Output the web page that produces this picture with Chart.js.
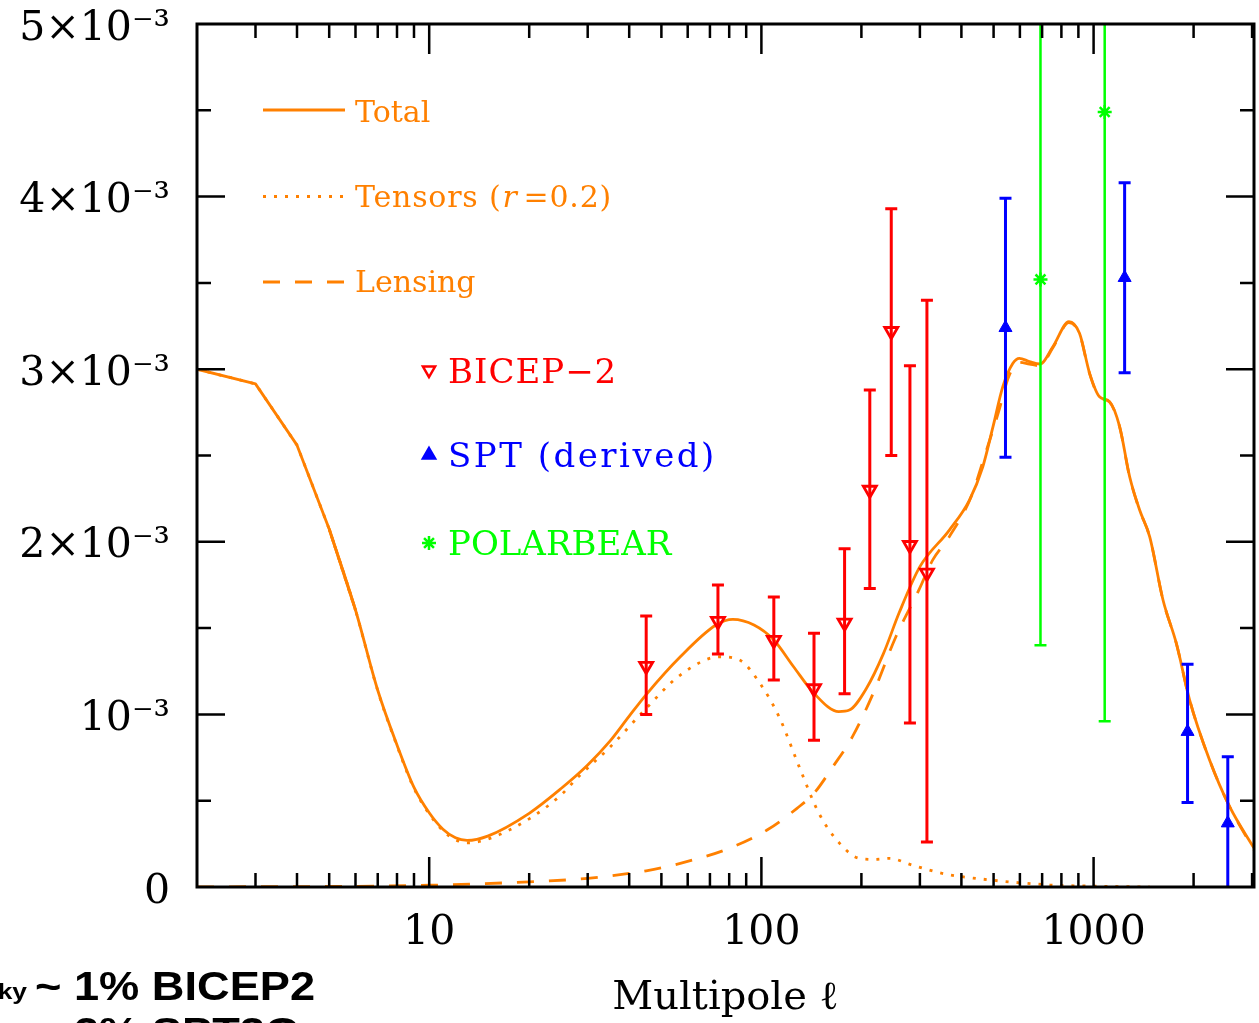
<!DOCTYPE html>
<html>
<head>
<meta charset="utf-8">
<script src="https://cdn.jsdelivr.net/npm/chart.js@4.4.1/dist/chart.umd.min.js"></script>
<style>
html, body { margin: 0; padding: 0; background: #fff; overflow: hidden; }
#plot { display: block; }
</style>
</head>
<body>
<canvas id="plot" width="1259" height="1023"></canvas>
<script>
// B-mode power spectrum, values in units of 1e-3 (muK^2)
// low multipoles are joined by straight segments, the rest is smooth
const lowEll = [2, 3, 4, 5, 6];
const lowCl = [3.00, 2.915, 2.56, 2.074, 1.605];
const totalEll = [5, 6, 7, 8, 9, 10, 11, 12, 13, 15, 20, 25, 30, 35, 40, 45, 57, 73, 82, 95, 109, 125, 144, 171, 184, 207, 233, 260, 300, 368, 423, 464, 498, 533, 571, 598, 641, 690, 754, 843, 907, 973, 1042, 1117, 1198, 1284, 1376, 1475, 1618, 1775, 1946, 2234, 2568, 3040];
const totalCl = [2.074, 1.605, 1.14, 0.823, 0.577, 0.43, 0.335, 0.285, 0.27, 0.295, 0.427, 0.572, 0.707, 0.845, 0.99, 1.115, 1.334, 1.518, 1.551, 1.518, 1.431, 1.276, 1.122, 1.016, 1.025, 1.150, 1.352, 1.590, 1.856, 2.068, 2.242, 2.435, 2.667, 2.899, 3.033, 3.063, 3.044, 3.03, 3.13, 3.275, 3.208, 2.976, 2.84, 2.812, 2.667, 2.377, 2.184, 2.03, 1.663, 1.411, 1.083, 0.736, 0.465, 0.225];

const tensLowEll = [2, 3, 4, 5, 6];
const tensLowCl = [3.00, 2.915, 2.56, 2.074, 1.603];
const tensEll = [5, 6, 7, 8, 9, 10, 11, 12, 13, 15, 20, 25, 28, 35, 45, 57, 75, 86, 99, 113, 130, 149, 172, 197, 220, 243, 284, 358, 442, 737, 1000, 1474];
const tensCl = [2.074, 1.603, 1.137, 0.818, 0.571, 0.423, 0.326, 0.274, 0.256, 0.277, 0.395, 0.535, 0.635, 0.81, 1.035, 1.228, 1.334, 1.315, 1.18, 0.987, 0.696, 0.427, 0.253, 0.166, 0.16, 0.166, 0.127, 0.075, 0.05, 0.012, 0.005, 0.0];

const lensEll = [2, 10, 20, 30, 40, 45, 57, 80, 104, 128, 144, 164, 188, 217, 254, 298, 328, 368, 428, 469, 517, 556, 598, 641, 690, 754, 843, 907, 973, 1042, 1117, 1198, 1284, 1376, 1475, 1618, 1775, 1946, 2234, 2568, 3040];
const lensCl = [0.0, 0.01, 0.03, 0.05, 0.079, 0.094, 0.137, 0.224, 0.33, 0.456, 0.543, 0.696, 0.871, 1.122, 1.45, 1.721, 1.895, 2.03, 2.261, 2.493, 2.75, 2.96, 3.04, 3.03, 3.02, 3.125, 3.27, 3.205, 2.973, 2.838, 2.81, 2.665, 2.375, 2.182, 2.03, 1.662, 1.41, 1.083, 0.736, 0.465, 0.215];

// data points with error bars
const bicepEll = [45, 74, 109, 144, 178, 212, 246, 280, 315];
const bicepCl = [1.28, 1.54, 1.43, 1.15, 1.53, 2.30, 3.22, 1.98, 1.82];
const bicepLo = [1.00, 1.35, 1.20, 0.85, 1.12, 1.73, 2.50, 0.95, 0.26];
const bicepHi = [1.57, 1.75, 1.68, 1.47, 1.96, 2.88, 3.93, 3.02, 3.40];

const sptEll = [543, 1240, 1918, 2535];
const sptCl = [3.24, 3.53, 0.90, 0.37];
const sptLo = [2.49, 2.98, 0.49, -0.1];
const sptHi = [3.99, 4.08, 1.29, 0.755];

const pbEll = [692, 1080];
const pbCl = [3.52, 4.49];
const pbLo = [1.40, 0.96];
const pbHi = [5.64, 8.02];

const yTickText = {0: '0', 1: '10⁻³', 2: '2×10⁻³', 3: '3×10⁻³', 4: '4×10⁻³', 5: '5×10⁻³'};
const xTickText = {10: '10', 100: '100', 1000: '1000'};

const ORANGE = '#ff8000';
const SERIF = '"DejaVu Serif", serif';

function pts(xs, ys) { return xs.map((v, i) => ({x: v, y: ys[i]})); }

// error bars, drawn with the chart scales
const errorBars = {
  id: 'errorBars',
  afterDatasetsDraw(chart) {
    const {ctx, chartArea: a, scales: {x, y}} = chart;
    ctx.save();
    ctx.beginPath();
    ctx.rect(a.left, a.top, a.right - a.left, a.bottom - a.top);
    ctx.clip();
    chart.data.datasets.forEach(ds => {
      if (!ds.errLo) return;
      ctx.strokeStyle = ds.borderColor;
      ctx.lineWidth = ds.errWidth;
      ds.data.forEach((p, i) => {
        const px = x.getPixelForValue(p.x);
        const lo = y.getPixelForValue(ds.errLo[i]);
        const hi = y.getPixelForValue(ds.errHi[i]);
        ctx.beginPath();
        ctx.moveTo(px, lo); ctx.lineTo(px, hi);
        ctx.moveTo(px - 6, lo); ctx.lineTo(px + 6, lo);
        ctx.moveTo(px - 6, hi); ctx.lineTo(px + 6, hi);
        ctx.stroke();
      });
    });
    ctx.restore();
  }
};

// box with inward ticks on all four sides
const frame = {
  id: 'frame',
  afterDatasetsDraw(chart) {
    const {ctx, chartArea: a, scales: {x, y}} = chart;
    ctx.save();
    ctx.strokeStyle = '#000';
    ctx.lineWidth = 2.5;
    ctx.beginPath();
    x.ticks.forEach(t => {
      const dec = Math.pow(10, Math.floor(Math.log10(t.value) + 1e-9));
      const m = t.value / dec;
      if (Math.abs(m - Math.round(m)) > 1e-6) return;
      const px = x.getPixelForValue(t.value);
      if (px <= a.left + 1 || px >= a.right - 1) return;
      const len = Math.round(m) === 1 ? 30 : 14;
      ctx.moveTo(px, a.bottom); ctx.lineTo(px, a.bottom - len);
      ctx.moveTo(px, a.top); ctx.lineTo(px, a.top + len);
    });
    y.ticks.forEach(t => {
      const py = y.getPixelForValue(t.value);
      if (py <= a.top + 1 || py >= a.bottom - 1) return;
      const len = Number.isInteger(t.value) ? 28 : 14;
      ctx.moveTo(a.left, py); ctx.lineTo(a.left + len, py);
      ctx.moveTo(a.right, py); ctx.lineTo(a.right - len, py);
    });
    ctx.stroke();
    ctx.lineWidth = 3;
    ctx.strokeRect(a.left, a.top, a.right - a.left, a.bottom - a.top);
    ctx.restore();
  }
};

// hand-placed legend, like the original figure
const legendBox = {
  id: 'legendBox',
  afterDraw(chart) {
    const ctx = chart.ctx;
    ctx.save();
    ctx.strokeStyle = ORANGE;
    ctx.lineWidth = 2.8;
    [[110, []], [196.5, [3, 8]], [282, [17, 15]]].forEach(([yy, dash]) => {
      ctx.setLineDash(dash);
      ctx.beginPath(); ctx.moveTo(263, yy); ctx.lineTo(345, yy); ctx.stroke();
    });
    ctx.setLineDash([]);
    ctx.fillStyle = ORANGE;
    ctx.textBaseline = 'alphabetic';
    ctx.font = '30px ' + SERIF;
    ctx.fillText('Total', 355, 121.5);
    ctx.letterSpacing = '0.8px';
    let xx = 355;
    ctx.fillText('Tensors (', xx, 207);
    xx += ctx.measureText('Tensors (').width + 1;
    ctx.font = 'italic 30px ' + SERIF;
    ctx.fillText('r', xx, 207);
    xx += ctx.measureText('r').width + 6;
    ctx.font = '30px ' + SERIF;
    ctx.fillText('=0.2)', xx, 207);
    ctx.letterSpacing = '0px';
    ctx.fillText('Lensing', 355, 292);

    const marks = [
      {y: 370, color: '#ff0000', style: 'triangle', rot: 180, fill: false, text: 'BICEP−2', base: 383, sp: '1px'},
      {y: 455, color: '#0000ff', style: 'triangle', rot: 0, fill: true, text: 'SPT (derived)', base: 467, sp: '2.5px'},
      {y: 543, color: '#00ff00', style: 'star', rot: 0, fill: false, text: 'POLARBEAR', base: 555, sp: '0px'}
    ];
    marks.forEach(m => {
      ctx.strokeStyle = m.color;
      ctx.fillStyle = m.fill ? m.color : 'rgba(0,0,0,0)';
      ctx.lineWidth = 2.5;
      Chart.helpers.drawPoint(ctx, {pointStyle: m.style, radius: 7, rotation: m.rot, borderWidth: 2.5}, 429, m.y);
      ctx.fillStyle = m.color;
      ctx.font = '34px ' + SERIF;
      ctx.letterSpacing = m.sp;
      ctx.fillText(m.text, 448, m.base);
      ctx.letterSpacing = '0px';
    });

    // caption fragment cut off at the lower left of the slide
    ctx.fillStyle = '#000';
    ctx.font = 'bold 22px "Liberation Sans", Arial, sans-serif';
    ctx.save();
    ctx.translate(27, 999);
    ctx.scale(1.2, 1);
    ctx.textAlign = 'right';
    ctx.fillText('f', -28, 0);
    ctx.fillText('sky', 0, 0);
    ctx.restore();
    ctx.font = 'bold 40px "Liberation Sans", Arial, sans-serif';
    ctx.save();
    ctx.translate(35, 1000);
    ctx.scale(1.13, 1);
    ctx.fillText('~ 1% BICEP2', 0, 0);
    ctx.restore();
    ctx.save();
    ctx.translate(35, 1046);
    ctx.scale(1.13, 1);
    ctx.fillText('~ 2% SPT3G', 0, 0);
    ctx.restore();
    ctx.restore();
  }
};

const lineBase = {showLine: true, pointRadius: 0, borderColor: ORANGE, borderWidth: 2.8,
  cubicInterpolationMode: 'monotone', borderJoinStyle: 'round', fill: false};
const straight = {cubicInterpolationMode: 'default', tension: 0};

function noPad(s) { s.paddingTop = 0; s.paddingBottom = 0; s.paddingLeft = 0; s.paddingRight = 0; }

new Chart(document.getElementById('plot'), {
  type: 'scatter',
  data: {
    datasets: [
      {label: 'BICEP-2', data: pts(bicepEll, bicepCl), errLo: bicepLo, errHi: bicepHi, errWidth: 3,
        pointStyle: 'triangle', rotation: 180, pointRadius: 7.5, borderColor: '#ff0000',
        backgroundColor: 'rgba(0,0,0,0)', borderWidth: 2.8},
      {label: 'SPT (derived)', data: pts(sptEll, sptCl), errLo: sptLo, errHi: sptHi, errWidth: 3,
        pointStyle: 'triangle', pointRadius: 7.5, borderColor: '#0000ff',
        backgroundColor: '#0000ff', borderWidth: 1},
      {label: 'POLARBEAR', data: pts(pbEll, pbCl), errLo: pbLo, errHi: pbHi, errWidth: 2.5,
        pointStyle: 'star', pointRadius: 7, borderColor: '#00ff00',
        backgroundColor: '#00ff00', borderWidth: 2.5},
      Object.assign({}, lineBase, straight, {label: 'Total (low l)', data: pts(lowEll, lowCl)}),
      Object.assign({}, lineBase, {label: 'Total', data: pts(totalEll, totalCl)}),
      Object.assign({}, lineBase, straight, {label: 'Tensors (low l)', data: pts(tensLowEll, tensLowCl), borderDash: [3, 8]}),
      Object.assign({}, lineBase, {label: 'Tensors', data: pts(tensEll, tensCl), borderDash: [3, 8]}),
      Object.assign({}, lineBase, {label: 'Lensing', data: pts(lensEll, lensCl), borderDash: [17, 15]})
    ]
  },
  options: {
    responsive: false,
    animation: false,
    devicePixelRatio: 1,
    layout: {autoPadding: false, padding: {top: 24, right: 5, left: 0, bottom: 0}},
    plugins: {legend: {display: false}, tooltip: {enabled: false}},
    scales: {
      x: {
        type: 'logarithmic', min: 2, max: 3040,
        grid: {display: false, drawTicks: false}, border: {display: false},
        ticks: {
          autoSkip: false, maxRotation: 0, padding: 22, color: '#000',
          font: {family: SERIF, size: 41},
          callback: v => xTickText[v] || ''
        },
        title: {display: true, text: 'Multipole ℓ', color: '#000',
          font: {family: SERIF, size: 40}, padding: {top: 0, bottom: 0}},
        afterFit: s => { s.height = 136; noPad(s); }
      },
      y: {
        min: 0, max: 5,
        grid: {display: false, drawTicks: false}, border: {display: false},
        ticks: {
          stepSize: 0.5, autoSkip: false, padding: 27, labelOffset: 5, color: '#000',
          font: {family: SERIF, size: 41},
          callback: v => (Number.isInteger(v) ? yTickText[v] : '')
        },
        afterFit: s => { s.width = 197; noPad(s); }
      }
    }
  },
  plugins: [errorBars, frame, legendBox]
});
</script>
</body>
</html>
